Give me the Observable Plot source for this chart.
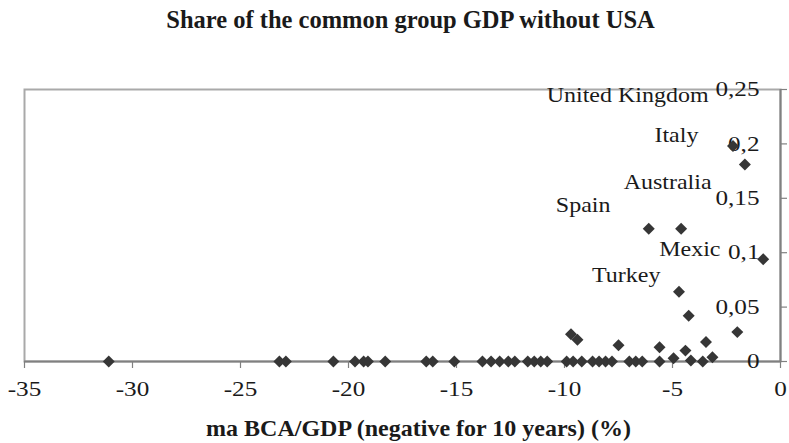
<!DOCTYPE html>
<html>
<head>
<meta charset="utf-8">
<script src="https://cdn.jsdelivr.net/npm/d3@7"></script>
<script src="https://cdn.jsdelivr.net/npm/@observablehq/plot@0.6"></script>
<style>
  html, body { margin: 0; padding: 0; background: #fff; }
  #title {
    height: 50px; box-sizing: border-box; padding-top: 8px;
    font-family: "Liberation Serif", serif; font-weight: bold; font-size: 24.5px;
    line-height: 1; text-align: center; position: relative; left: 16px; color: #1a1a1a;
    width: 789px;
  }
</style>
</head>
<body>
<div id="title">Share of the common group GDP without USA</div>
<div id="chart"></div>
<script>
const xTicks = [-35, -30, -25, -20, -15, -10, -5, 0];
const xTickLabels = ["-35", "-30", "-25", "-20", "-15", "-10", "-5", "0"];
const yTicks = [0, 0.05, 0.1, 0.15, 0.2, 0.25];
const yTickLabels = ["0", "0,05", "0,1", "0,15", "0,2", "0,25"];

const pointX = [
  -31.1, -23.2, -22.9, -20.7, -19.7, -19.3, -19.1, -18.3, -16.4, -16.1, -15.1,
  -13.8, -13.4, -13.0, -12.6, -12.3, -11.7, -11.4, -11.1, -10.8,
  -9.9, -9.6, -9.2, -8.7, -8.4, -8.1, -7.8, -7.0, -6.7, -6.4, -5.6, -4.15, -3.6, -3.15,
  -4.95, -9.7, -9.4, -7.5, -5.6, -4.4, -3.45, -2.0, -4.25,
  -4.7, -0.8, -6.1, -4.6, -1.65, -2.2
];
const pointY = [
  0, 0, 0, 0, 0, 0, 0, 0, 0, 0, 0,
  0, 0, 0, 0, 0, 0, 0, 0, 0,
  0, 0, 0, 0, 0, 0, 0, 0, 0, 0, 0, 0.001, 0, 0.004,
  0.003, 0.025, 0.02, 0.015, 0.013, 0.01, 0.018, 0.027, 0.042,
  0.064, 0.094, 0.122, 0.122, 0.181, 0.198
];

const labelNames = ["United Kingdom", "Italy", "Australia", "Spain", "Mexic", "Turkey"];
const labelX = [-3.33, -3.8, -3.19, -7.87, -2.78, -5.56];
const labelY = [0.2445, 0.2077, 0.1645, 0.1434, 0.103, 0.079];

const xTitle = "ma BCA/GDP (negative for 10 years) (%)";

const points = pointX.map((x, i) => ({x, y: pointY[i]}));
const labels = labelNames.map((name, i) => ({name, x: labelX[i], y: labelY[i]}));

const serif = "Liberation Serif, Times New Roman, serif";

const chart = Plot.plot({
  width: 789,
  height: 393,
  marginTop: 39,
  marginBottom: 82,
  marginLeft: 24,
  marginRight: 9,
  style: {fontFamily: serif, background: "#fff", overflow: "visible"},
  x: {domain: [-35, 0], axis: null},
  y: {domain: [0, 0.25], axis: null},
  marks: [
    Plot.frame({stroke: "#a9a9a9", strokeWidth: 2}),
    Plot.axisX(xTicks, {anchor: "bottom", tickSize: 7, fill: "none", stroke: "#808080", strokeWidth: 1.2, label: null}),
    Plot.axisY(yTicks, {anchor: "right", tickSize: 6, fill: "none", stroke: "#808080", strokeWidth: 1.2, label: null}),
    Plot.ruleY([0], {stroke: "#808080", strokeWidth: 2}),
    Plot.ruleX([0], {stroke: "#808080", strokeWidth: 2}),
    Plot.text(yTicks, {y: d => d, text: (d, i) => yTickLabels[i], frameAnchor: "right", textAnchor: "end", dx: -21,
      fontSize: 21, fontFamily: serif, fill: "#1a1a1a", className: "stretch"}),
    Plot.text(xTicks, {x: d => d, text: (d, i) => xTickLabels[i], frameAnchor: "bottom", lineAnchor: "top", dy: 20,
      fontSize: 21, fontFamily: serif, fill: "#1a1a1a", className: "stretch"}),
    Plot.dot(points, {x: "x", y: "y", symbol: "diamond2", r: 5.4, fill: "#363636", stroke: "none"}),
    Plot.text(labels, {x: "x", y: "y", text: "name", textAnchor: "end", fontSize: 20, fontFamily: serif,
      fill: "#1a1a1a", className: "stretch"}),
    Plot.text([xTitle], {text: d => d, frameAnchor: "bottom", lineAnchor: "bottom", dx: 16, dy: 74,
      fontSize: 24, fontWeight: "bold", fontFamily: serif, fill: "#1a1a1a"})
  ]
});

document.getElementById("chart").appendChild(chart);

// Horizontal stretch of the chart's regular texts (the source was scaled horizontally)
chart.querySelectorAll("g.stretch text").forEach(t => {
  const tr = t.getAttribute("transform");
  if (tr && tr.includes("translate")) {
    t.setAttribute("transform", tr + " scale(1.2,1)");
  } else {
    const x = parseFloat(t.getAttribute("x") || 0) || 0, y = parseFloat(t.getAttribute("y") || 0) || 0;
    t.setAttribute("transform", `translate(${x},${y}) scale(1.2,1) translate(${-x},${-y})`);
  }
});
</script>
</body>
</html>
